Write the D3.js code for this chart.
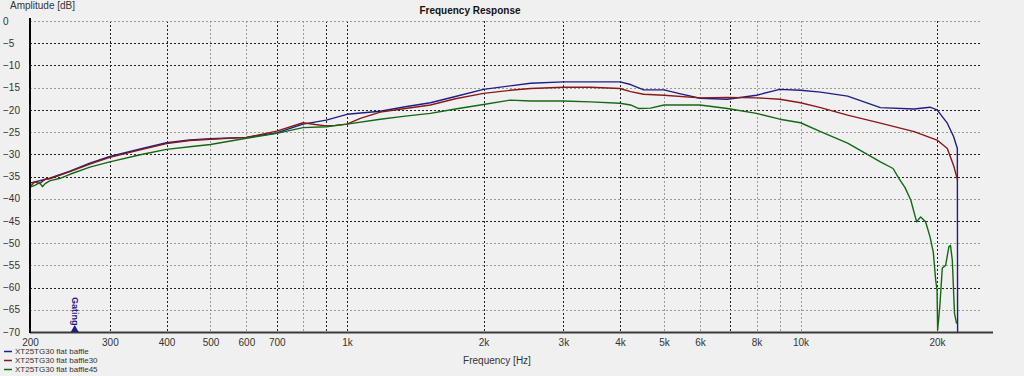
<!DOCTYPE html>
<html>
<head>
<meta charset="utf-8">
<script src="https://cdn.jsdelivr.net/npm/d3@7"></script>
<style>
  body { margin: 0; background: #f0f0f0; }
  svg { display: block; font-family: "Liberation Sans", Arial, sans-serif; }
</style>
</head>
<body>
<svg id="chart" width="1024" height="376"></svg>
<script>
"use strict";

// 주파수 눈금 (값과 라벨)
const xTicks = [200, 300, 400, 500, 600, 700, 800, 900, 1000, 2000, 3000, 4000, 5000, 6000, 7000, 8000, 9000, 10000, 20000];
const xTickLabels = ["200", "300", "400", "500", "600", "700", "", "", "1k", "2k", "3k", "4k", "5k", "6k", "", "8k", "", "10k", "20k"];
const yTicks = [0, -5, -10, -15, -20, -25, -30, -35, -40, -45, -50, -55, -60, -65, -70];

const seriesNames = ["XT25TG30 flat baffle", "XT25TG30 flat baffle30", "XT25TG30 flat baffle45"];

// XT25TG30 flat baffle
const freqBaffle = [200, 221, 245, 271, 300, 350, 400, 450, 500, 600, 700, 800, 900, 1000, 1184, 1345, 1527, 1734, 2000, 2290, 2540, 3000, 3440, 4000, 4220, 4510, 5000, 5440, 6000, 6900, 8000, 9000, 10000, 11070, 12700, 15000, 17800, 19300, 20000, 21070, 21750, 22170, 22200];
const dbBaffle = [-36.5, -35.4, -33.8, -32.0, -30.5, -28.8, -27.4, -26.8, -26.5, -26.2, -25.2, -23.2, -22.3, -21.0, -20.3, -19.3, -18.4, -17.0, -15.4, -14.6, -14.0, -13.7, -13.7, -13.7, -14.3, -15.5, -15.5, -16.4, -17.4, -17.6, -16.7, -15.4, -15.6, -16.0, -16.9, -19.5, -19.8, -19.4, -20.0, -23.0, -26.0, -28.7, -70];

// XT25TG30 flat baffle30
const freqBaffle30 = [200, 205, 210, 216, 221, 245, 271, 300, 350, 400, 450, 500, 600, 700, 800, 851, 900, 942, 1000, 1070, 1184, 1345, 1527, 1734, 2000, 2290, 2540, 3000, 3440, 4000, 4220, 4510, 5000, 6000, 6900, 8000, 9000, 10000, 11070, 12700, 15000, 17800, 20000, 21070, 21750, 22090, 22200];
const dbBaffle30 = [-37.3, -36.2, -36.6, -35.6, -35.5, -33.9, -32.2, -30.7, -29.0, -27.6, -26.9, -26.6, -26.2, -24.8, -22.9, -23.3, -23.6, -23.5, -23.2, -21.9, -20.5, -19.7, -18.9, -17.5, -16.3, -15.6, -15.2, -14.9, -14.9, -15.2, -15.9, -16.5, -16.7, -17.3, -17.2, -17.3, -17.6, -18.4, -19.5, -21.2, -23.0, -24.9, -26.8, -28.7, -32.5, -35.0, -35.8];

// XT25TG30 flat baffle45
const freqBaffle45 = [200, 205, 210, 213, 216, 221, 233, 245, 271, 300, 350, 400, 450, 500, 600, 700, 800, 900, 1000, 1184, 1345, 1527, 1734, 2000, 2290, 2540, 3000, 3440, 4000, 4220, 4400, 4670, 5000, 6000, 6900, 8000, 9000, 10000, 11070, 12700, 15000, 16000, 16450, 17000, 17500, 18030, 18400, 18870, 19300, 19620, 19860, 20000, 20060, 20290, 20540, 20890, 21240, 21410, 21610, 21850, 22090];
const dbBaffle45 = [-37.4, -37.0, -36.4, -37.3, -36.6, -36.0, -35.4, -34.5, -32.9, -31.7, -30.1, -28.9, -28.3, -27.8, -26.4, -25.3, -24.0, -23.8, -23.2, -22.1, -21.4, -20.8, -19.8, -18.8, -17.8, -18.0, -18.0, -18.2, -18.5, -18.9, -19.7, -19.6, -18.9, -18.9, -19.7, -20.8, -22.1, -22.9, -24.9, -27.5, -31.7, -33.2, -35.3, -37.5, -40.3, -45.2, -44.1, -45.2, -48.6, -52.0, -58.3, -60.6, -69.6, -64.0, -55.6, -55.0, -50.8, -50.5, -53.8, -65.8, -68.1];

const gatingFreq = 251;

const series = [
  { name: seriesNames[0], freq: freqBaffle, db: dbBaffle, color: "#1e1e86" },
  { name: seriesNames[1], freq: freqBaffle30, db: dbBaffle30, color: "#8a1818" },
  { name: seriesNames[2], freq: freqBaffle45, db: dbBaffle45, color: "#146814" }
];

const svg = d3.select("#chart");
const plotLeft = 30, plotRight = 981, plotTop = 21, plotBottom = 332;

// 로그 스케일 x축 (200Hz ~ 25kHz)
const x = d3.scaleLog().domain([200, 25000]).range([plotLeft, plotRight]);
const y = d3.scaleLinear().domain([0, -70]).range([plotTop, plotBottom]);

// 격자선: 어떤 선은 진하게, 어떤 선은 흐리게 보임
const lightX = new Set([500, 600, 800, 5000, 6000, 8000, 9000, 10000]);
const lightY = new Set([0, -15, -25, -40, -50, -55, -65]);

const grid = svg.append("g");
grid.selectAll("line.vx")
  .data(xTicks.filter((d) => d > 200))
  .enter()
  .append("line")
  .attr("x1", (d) => Math.round(x(d)) + 0.5)
  .attr("x2", (d) => Math.round(x(d)) + 0.5)
  .attr("y1", plotTop)
  .attr("y2", plotBottom)
  .attr("stroke", (d) => (lightX.has(d) ? "#9a9a9a" : "#202020"))
  .attr("stroke-dasharray", "2,2");

grid.selectAll("line.hy")
  .data(yTicks.filter((d) => d > -70))
  .enter()
  .append("line")
  .attr("x1", plotLeft)
  .attr("x2", plotRight)
  .attr("y1", (d) => Math.round(y(d)) + 0.5)
  .attr("y2", (d) => Math.round(y(d)) + 0.5)
  .attr("stroke", (d) => (lightY.has(d) ? "#9a9a9a" : "#202020"))
  .attr("stroke-dasharray", "2,2");

// 곡선
const line = d3.line()
  .x((d) => x(d[0]))
  .y((d) => y(d[1]));

svg.append("g")
  .selectAll("path")
  .data(series)
  .enter()
  .append("path")
  .attr("d", (s) => line(s.freq.map((f, i) => [f, s.db[i]])))
  .attr("fill", "none")
  .attr("stroke", (s) => s.color)
  .attr("stroke-width", 1.4)
  .attr("stroke-linejoin", "round");

// 축선
svg.append("line")
  .attr("x1", plotLeft).attr("x2", plotRight + 12)
  .attr("y1", plotBottom + 0.5).attr("y2", plotBottom + 0.5)
  .attr("stroke", "#3a3a3a").attr("stroke-width", 2);
svg.append("line")
  .attr("x1", plotLeft).attr("x2", plotLeft)
  .attr("y1", 18).attr("y2", plotBottom + 1)
  .attr("stroke", "#000").attr("stroke-width", 2);

// x축 라벨
const xAxis = d3.axisBottom(x)
  .tickValues(xTicks)
  .tickFormat((d, i) => xTickLabels[i])
  .tickSize(0)
  .tickPadding(7);
const gX = svg.append("g").attr("transform", `translate(0,${plotBottom})`).call(xAxis);
gX.select(".domain").remove();
gX.selectAll("text").attr("font-size", 10).attr("fill", "#333").attr("font-family", "Liberation Sans, Arial, sans-serif");

// y축 라벨 (왼쪽 정렬)
const yAxis = d3.axisLeft(y).tickValues(yTicks).tickFormat(d3.format("d")).tickSize(0);
const gY = svg.append("g").attr("transform", `translate(${plotLeft},0)`).call(yAxis);
gY.select(".domain").remove();
gY.selectAll("text")
  .attr("text-anchor", "start")
  .attr("x", -27)
  .attr("font-size", 10)
  .attr("fill", "#333")
  .attr("font-family", "Liberation Sans, Arial, sans-serif");

// 제목, 축 제목
svg.append("text").attr("x", 470).attr("y", 14).attr("text-anchor", "middle")
  .attr("font-size", 10).attr("font-weight", "bold").attr("fill", "#111")
  .text("Frequency Response");
svg.append("text").attr("x", 10).attr("y", 9)
  .attr("font-size", 10).attr("fill", "#333")
  .text("Amplitude [dB]");
svg.append("text").attr("x", 497).attr("y", 364).attr("text-anchor", "middle")
  .attr("font-size", 10).attr("fill", "#333")
  .text("Frequency [Hz]");

// Gating 표시
const gateX = x(gatingFreq);
svg.append("text")
  .attr("transform", `translate(${gateX - 3},297) rotate(90)`)
  .attr("font-size", 9).attr("font-weight", "bold").attr("fill", "#1e1e86")
  .text("Gating");
svg.append("path")
  .attr("d", `M${gateX - 4},${plotBottom} L${gateX + 4},${plotBottom} L${gateX},${plotBottom - 7} Z`)
  .attr("fill", "#1e1e86");

// 범례
const legend = svg.append("g")
  .selectAll("g")
  .data(series)
  .enter()
  .append("g")
  .attr("transform", (d, i) => `translate(0,${351 + i * 9})`);
legend.append("line")
  .attr("x1", 4).attr("x2", 12).attr("y1", 0.5).attr("y2", 0.5)
  .attr("stroke", (d) => d.color).attr("stroke-width", 1.5);
legend.append("text")
  .attr("x", 15).attr("y", 3)
  .attr("font-size", 8).attr("fill", "#333")
  .text((d) => d.name);
</script>
</body>
</html>
